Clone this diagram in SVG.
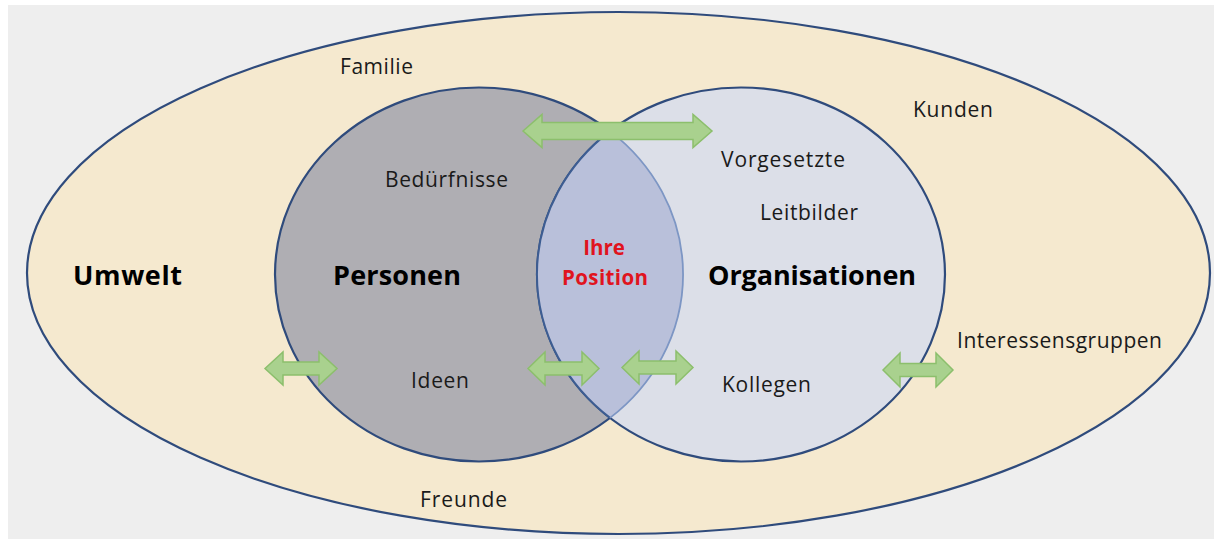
<svg xmlns="http://www.w3.org/2000/svg" width="1214" height="539" viewBox="0 0 1214 539">
  <style>
    .lbl { font-family: "Open Sans", "Liberation Sans", sans-serif; font-size: 21px; fill: #1a1a1a; text-anchor: middle; }
    .big { font-family: "Open Sans", "Liberation Sans", sans-serif; font-size: 27px; font-weight: bold; fill: #000; text-anchor: middle; }
    .red { font-family: "Open Sans", "Liberation Sans", sans-serif; font-size: 20.5px; font-weight: bold; fill: #e0141e; text-anchor: middle; }
    .arrow { fill: #a9d18e; stroke: #8cbf6c; stroke-width: 1.5; stroke-linejoin: miter; }
    .edge { fill: none; stroke: #2f4b7c; stroke-width: 2.2; }
  </style>
  <rect x="0" y="0" width="1214" height="539" fill="#ffffff"/>
  <rect x="8" y="5" width="1206" height="534" fill="#eeeeee"/>

  <g id="umwelt">
    <ellipse cx="618.5" cy="273" rx="591.5" ry="261" class="edge" style="fill:#f5e9cf"/>
  </g>

  <g id="personen">
    <ellipse cx="479" cy="274.5" rx="204" ry="187" style="fill:#afaeb3" class="edge"/>
  </g>

  <g id="organisationen">
    <ellipse cx="741" cy="274.5" rx="204" ry="187" style="fill:#dcdfe8" class="edge"/>
  </g>

  <g id="position">
    <path d="M610,131.1 A204,187 0 0 1 610,417.9 A204,187 0 0 1 610,131.1 Z" fill="#b9c0da"/>
    <path d="M610,131.1 A204,187 0 0 0 610,417.9" fill="none" stroke="#3d5d92" stroke-width="2"/>
    <path d="M610,131.1 A204,187 0 0 1 610,417.9" fill="none" stroke="#7d96c4" stroke-width="1.8"/>
  </g>

  <g id="connectors">
    <path class="arrow" d="M523,131 L542,114.5 L542,122.5 L693,122.5 L693,114.5 L712,131 L693,147.5 L693,139.5 L542,139.5 L542,147.5 Z"/>
    <path class="arrow" d="M265,368.5 L283,352 L283,362 L319,362 L319,352 L337,368.5 L319,385 L319,375 L283,375 L283,385 Z"/>
    <path class="arrow" d="M528,368.5 L545,352 L545,362 L582,362 L582,352 L599,368.5 L582,385 L582,375 L545,375 L545,385 Z"/>
    <path class="arrow" d="M622,367.5 L639,351 L639,361 L676,361 L676,351 L693,367.5 L676,384 L676,374 L639,374 L639,384 Z"/>
    <path class="arrow" d="M883,370 L900,353 L900,363.5 L936,363.5 L936,353 L953,370 L936,387 L936,376.5 L900,376.5 L900,387 Z"/>
  </g>

  <g id="labels">
    <text class="lbl" x="376.5" y="74" textLength="73" lengthAdjust="spacing">Familie</text>
    <text class="lbl" x="953" y="117" textLength="80" lengthAdjust="spacing">Kunden</text>
    <text class="lbl" x="446.5" y="187" textLength="123" lengthAdjust="spacing">Bedürfnisse</text>
    <text class="lbl" x="783" y="167" textLength="124" lengthAdjust="spacing">Vorgesetzte</text>
    <text class="lbl" x="809" y="220" textLength="98" lengthAdjust="spacing">Leitbilder</text>
    <text class="big" x="127.5" y="285" textLength="109" lengthAdjust="spacing">Umwelt</text>
    <text class="big" x="397" y="285" textLength="128" lengthAdjust="spacing">Personen</text>
    <text class="big" x="812" y="285" textLength="208" lengthAdjust="spacing">Organisationen</text>
    <text class="red" x="604" y="255">Ihre</text>
    <text class="red" x="605" y="285" textLength="86" lengthAdjust="spacing">Position</text>
    <text class="lbl" x="1059.5" y="348" textLength="205" lengthAdjust="spacing">Interessensgruppen</text>
    <text class="lbl" x="440" y="388" textLength="58" lengthAdjust="spacing">Ideen</text>
    <text class="lbl" x="766.5" y="392" textLength="89" lengthAdjust="spacing">Kollegen</text>
    <text class="lbl" x="463.5" y="507" textLength="87" lengthAdjust="spacing">Freunde</text>
  </g>
</svg>
